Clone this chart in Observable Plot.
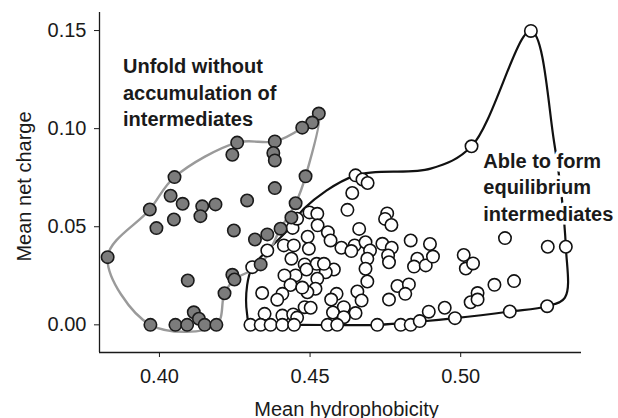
<!DOCTYPE html>
<html>
<head>
<meta charset="utf-8">
<script src="https://cdn.jsdelivr.net/npm/d3@7"></script>
<script src="https://cdn.jsdelivr.net/npm/@observablehq/plot@0.6"></script>
<style>
  html, body { margin: 0; padding: 0; background: #fff; }
</style>
</head>
<body>
<div id="chart"></div>
<script>
// Gray group: "Unfold without accumulation of intermediates"
const grayX = [0.4529,0.4507,0.4474,0.4258,0.4383,0.4242,0.4378,0.4383,0.4050,0.4485,
               0.4383,0.4037,0.4077,0.4142,0.4186,0.4291,0.3968,0.4136,0.4048,0.4452,
               0.4438,0.3990,0.4247,0.4402,0.4358,0.4317,0.3828,0.4336,0.4094,0.4242,
               0.4249,0.4216,0.4114,0.4131,0.3970,0.4053,0.4092,0.4150,0.4189];
const grayY = [0.1077,0.1031,0.1005,0.0929,0.0935,0.0867,0.0876,0.0838,0.0753,0.0757,
               0.0697,0.0658,0.0617,0.0604,0.0614,0.0634,0.0588,0.0554,0.0537,0.0620,
               0.0547,0.0493,0.0481,0.0490,0.0461,0.0435,0.0345,0.0308,0.0226,0.0255,
               0.0231,0.0161,0.0064,0.0031,0.0000,0.0000,0.0000,0.0000,0.0000];

// White group: "Able to form equilibrium intermediates"
const whiteX = [0.5233,0.5036,0.4651,0.4674,0.4691,0.4640,0.4624,0.4756,0.4749,0.4770,
                0.4663,0.4498,0.4524,0.4525,0.4559,0.4492,0.4442,0.4457,0.4568,0.4604,
                0.4648,0.4637,0.4684,0.4699,0.4740,0.4771,0.4759,0.4762,0.4834,0.4856,
                0.4845,0.4884,0.4898,0.4908,0.4690,0.4684,0.4690,0.4657,0.4671,0.4651,
                0.4612,0.4588,0.4570,0.4576,0.4612,0.4558,0.4590,0.4723,0.4801,0.4834,
                0.4864,0.4894,0.4790,0.4828,0.4816,0.4762,0.4413,0.4446,0.4438,0.4496,
                0.4358,0.4308,0.4482,0.4522,0.4579,0.4552,0.4488,0.4452,0.4524,0.4415,
                0.4435,0.4518,0.4491,0.4474,0.4341,0.4408,0.4391,0.4482,0.4502,0.4349,
                0.4408,0.4444,0.4457,0.4302,0.4336,0.4369,0.4408,0.4447,0.5010,0.5017,
                0.5041,0.5147,0.5289,0.5349,0.5112,0.5177,0.5056,0.5033,0.5056,0.4947,
                0.4981,0.5163,0.5287,0.4546];
const whiteY = [0.1498,0.0910,0.0762,0.0741,0.0723,0.0672,0.0586,0.0568,0.0540,0.0509,
                0.0489,0.0573,0.0566,0.0507,0.0472,0.0449,0.0494,0.0541,0.0430,0.0393,
                0.0405,0.0376,0.0421,0.0379,0.0413,0.0393,0.0354,0.0319,0.0430,0.0337,
                0.0297,0.0303,0.0412,0.0348,0.0337,0.0286,0.0221,0.0170,0.0124,0.0060,
                0.0090,0.0158,0.0129,0.0063,0.0039,0.0000,0.0000,0.0000,0.0000,0.0000,
                0.0019,0.0067,0.0198,0.0206,0.0158,0.0129,0.0405,0.0405,0.0337,0.0388,
                0.0379,0.0294,0.0308,0.0311,0.0282,0.0268,0.0282,0.0252,0.0235,0.0252,
                0.0203,0.0184,0.0166,0.0190,0.0162,0.0158,0.0128,0.0090,0.0087,0.0056,
                0.0047,0.0053,0.0037,0.0000,0.0000,0.0000,0.0000,0.0000,0.0356,0.0287,
                0.0313,0.0442,0.0398,0.0398,0.0204,0.0223,0.0162,0.0115,0.0129,0.0087,
                0.0034,0.0068,0.0095,0.0311];

// Outline vertices (data units) of each group
const grayHullX = [0.4529,0.4485,0.4452,0.4402,0.4336,0.4249,0.4216,0.4189,0.3970,0.3828,0.3968,0.4050,0.4258,0.4383,0.4474];
const grayHullY = [0.1077,0.0757,0.0620,0.0490,0.0308,0.0231,0.0161,0.0000,0.0000,0.0345,0.0588,0.0753,0.0929,0.0935,0.1005];
const whiteHullX = [0.4302,0.4291,0.4291,0.4308,0.4358,0.4435,0.4479,0.4651,0.4900,0.5036,0.5233,0.5310,0.5349,0.5346,0.5287,0.5163,0.4981,0.4867,0.4723,0.4468];
const whiteHullY = [0.0000,0.0053,0.0201,0.0294,0.0379,0.0498,0.0592,0.0762,0.0796,0.0910,0.1498,0.0932,0.0398,0.0139,0.0095,0.0068,0.0034,0.0017,0.0000,0.0000];

// Axes
const xTicks = [0.40, 0.45, 0.50];
const yTicks = [0.00, 0.05, 0.10, 0.15];
const xDomain = [0.3801, 0.5401];
const yDomain = [-0.0141, 0.1592];
const xLabel = "Mean hydrophobicity";
const yLabel = "Mean net charge";

// Annotations
const noteText = ["Unfold without\naccumulation of\nintermediates", "Able to form\nequilibrium\nintermediates"];
const noteX = [0.3879, 0.5075];
const noteY = [0.1191, 0.0709];

const gray = grayX.map((x, i) => ({x, y: grayY[i]}));
const white = whiteX.map((x, i) => ({x, y: whiteY[i]}));
const grayHull = grayHullX.map((x, i) => ({x, y: grayHullY[i]}));
const whiteHull = whiteHullX.map((x, i) => ({x, y: whiteHullY[i]}));
const notes = noteText.map((t, i) => ({t, x: noteX[i], y: noteY[i]}));
const fmt = d3.format(".2f");
const ink = "#1a1a1a";

const chart = Plot.plot({
  width: 618,
  height: 418,
  marginLeft: 99,
  marginRight: 37,
  marginTop: 12,
  marginBottom: 66,
  style: {fontFamily: "'Liberation Sans', Arial, Helvetica, sans-serif", background: "#fff", color: ink},
  x: {domain: xDomain},
  y: {domain: yDomain},
  marks: [
    Plot.ruleX([xDomain[0]], {stroke: ink, strokeWidth: 1.3}),
    Plot.ruleY([yDomain[0]], {stroke: ink, strokeWidth: 1.3}),
    Plot.axisX({ticks: xTicks, tickFormat: fmt, tickSize: 5, tickPadding: 11, fontSize: 20, stroke: ink, fill: ink, label: null}),
    Plot.axisY({ticks: yTicks, tickFormat: fmt, tickSize: 5, tickPadding: 8, fontSize: 20, stroke: ink, fill: ink, label: null}),
    Plot.line(whiteHull, {x: "x", y: "y", curve: "catmull-rom-closed", stroke: "#111", strokeWidth: 2.2}),
    Plot.line(grayHull, {x: "x", y: "y", curve: "catmull-rom-closed", stroke: "#9a9a9a", strokeWidth: 2.4}),
    Plot.text(notes, {x: "x", y: "y", text: "t", textAnchor: "start", lineAnchor: "middle", lineHeight: 1.33,
      fontSize: 20, fontWeight: "bold", fill: ink, stroke: "white", strokeWidth: 7}),
    Plot.dot(white, {x: "x", y: "y", r: 6.2, fill: "white", stroke: "#111", strokeWidth: 1.6}),
    Plot.dot(gray, {x: "x", y: "y", r: 6.2, fill: "#7c7c7c", stroke: "#1a1a1a", strokeWidth: 1.6}),
    Plot.text([xLabel], {frameAnchor: "bottom", textAnchor: "middle", lineAnchor: "bottom", dy: 63, dx: 6, fontSize: 20, fill: ink}),
    Plot.text([yLabel], {frameAnchor: "left", textAnchor: "middle", rotate: -90, lineAnchor: "middle", dx: -75, dy: 4, fontSize: 20, fill: ink})
  ]
});
document.getElementById("chart").appendChild(chart);
</script>
</body>
</html>
